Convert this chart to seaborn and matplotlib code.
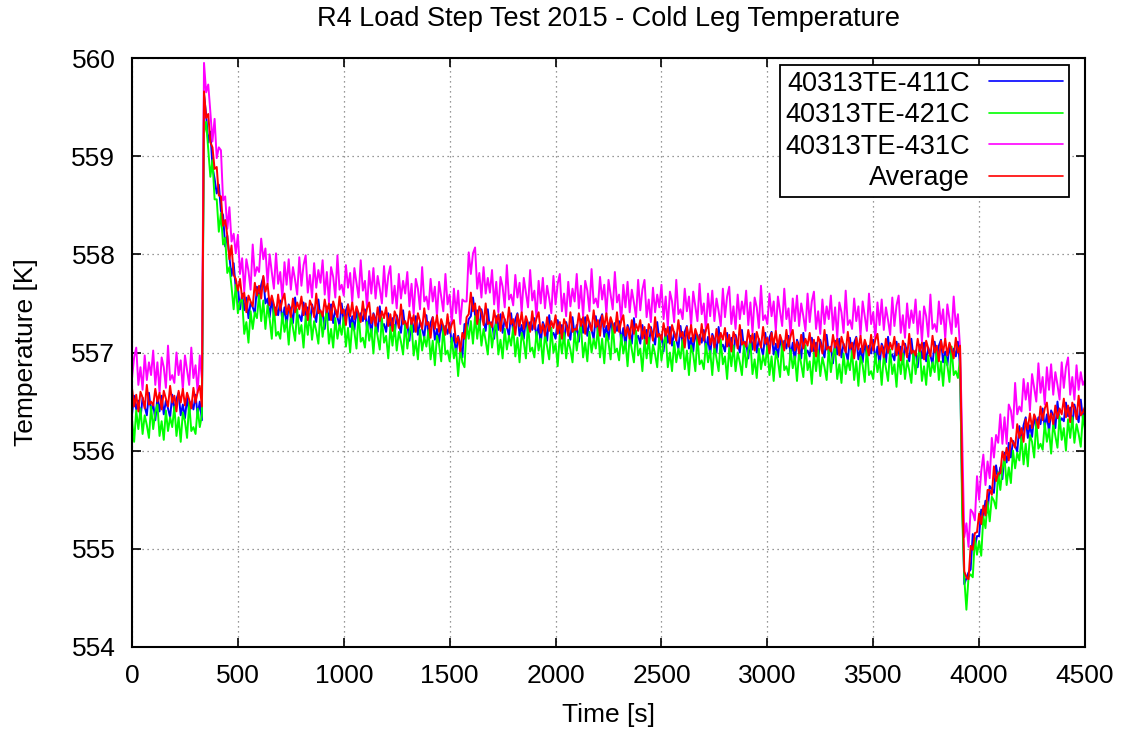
import numpy as np
import pandas as pd
import matplotlib
matplotlib.use("Agg")
import matplotlib.pyplot as plt
import seaborn as sns

# time axis: 10 s sampling, 0 .. 4500 s (451 samples)
time_s = np.arange(0, 4510, 10)

te411c = [
    556.37, 556.56, 556.42, 556.51, 556.33, 556.54, 556.45, 556.36, 556.59, 556.40,
    556.48, 556.31, 556.54, 556.40, 556.56, 556.37, 556.51, 556.43, 556.34, 556.57,
    556.40, 556.53, 556.59, 556.36, 556.47, 556.33, 556.54, 556.39, 556.50, 556.42,
    556.57, 556.36, 556.50, 556.31, 559.63, 559.42, 559.14, 559.25, 558.89, 558.77,
    558.62, 558.71, 558.44, 558.40, 558.08, 558.19, 557.97, 557.78, 557.91, 557.65,
    557.66, 557.44, 557.60, 557.43, 557.56, 557.35, 557.51, 557.46, 557.40, 557.67,
    557.53, 557.69, 557.77, 557.50, 557.55, 557.36, 557.54, 557.37, 557.46, 557.38,
    557.53, 557.32, 557.46, 557.27, 557.49, 557.43, 557.30, 557.56, 557.35, 557.38,
    557.32, 557.51, 557.37, 557.46, 557.28, 557.49, 557.40, 557.31, 557.54, 557.35,
    557.41, 557.24, 557.47, 557.33, 557.49, 557.30, 557.44, 557.36, 557.27, 557.50,
    557.30, 557.43, 557.49, 557.26, 557.37, 557.23, 557.44, 557.29, 557.40, 557.32,
    557.44, 557.23, 557.37, 557.18, 557.40, 557.34, 557.21, 557.47, 557.26, 557.29,
    557.21, 557.40, 557.26, 557.35, 557.17, 557.38, 557.29, 557.20, 557.43, 557.24,
    557.29, 557.12, 557.35, 557.21, 557.37, 557.18, 557.32, 557.24, 557.15, 557.38,
    557.17, 557.30, 557.36, 557.13, 557.24, 557.10, 557.31, 557.16, 557.27, 557.19,
    557.30, 557.07, 557.19, 556.98, 557.17, 557.08, 556.95, 557.29, 557.21, 557.34,
    557.37, 557.56, 557.38, 557.43, 557.23, 557.44, 557.33, 557.22, 557.44, 557.24,
    557.31, 557.14, 557.37, 557.23, 557.39, 557.20, 557.34, 557.26, 557.17, 557.40,
    557.21, 557.34, 557.40, 557.17, 557.28, 557.14, 557.35, 557.20, 557.31, 557.23,
    557.35, 557.14, 557.28, 557.09, 557.31, 557.25, 557.12, 557.38, 557.17, 557.20,
    557.14, 557.33, 557.19, 557.28, 557.10, 557.31, 557.22, 557.13, 557.36, 557.17,
    557.28, 557.11, 557.34, 557.20, 557.36, 557.17, 557.31, 557.23, 557.14, 557.37,
    557.20, 557.33, 557.39, 557.16, 557.27, 557.13, 557.34, 557.19, 557.30, 557.22,
    557.32, 557.11, 557.25, 557.06, 557.28, 557.22, 557.09, 557.35, 557.14, 557.17,
    557.09, 557.28, 557.14, 557.23, 557.05, 557.26, 557.17, 557.08, 557.31, 557.12,
    557.18, 557.01, 557.24, 557.10, 557.26, 557.07, 557.21, 557.13, 557.04, 557.27,
    557.08, 557.21, 557.27, 557.04, 557.15, 557.01, 557.22, 557.07, 557.18, 557.10,
    557.23, 557.02, 557.16, 556.97, 557.19, 557.13, 557.00, 557.26, 557.05, 557.08,
    557.01, 557.20, 557.06, 557.15, 556.97, 557.18, 557.09, 557.00, 557.23, 557.04,
    557.11, 556.94, 557.17, 557.03, 557.19, 557.00, 557.14, 557.06, 556.97, 557.20,
    557.02, 557.15, 557.21, 556.98, 557.09, 556.95, 557.16, 557.01, 557.12, 557.04,
    557.17, 556.96, 557.10, 556.91, 557.13, 557.07, 556.94, 557.20, 556.99, 557.02,
    556.96, 557.15, 557.01, 557.10, 556.92, 557.13, 557.04, 556.95, 557.18, 556.99,
    557.06, 556.89, 557.12, 556.98, 557.14, 556.95, 557.09, 557.01, 556.92, 557.15,
    556.97, 557.10, 557.16, 556.93, 557.04, 556.90, 557.11, 556.96, 557.07, 556.99,
    557.13, 556.92, 557.06, 556.87, 557.09, 557.03, 556.90, 557.16, 556.95, 556.98,
    556.92, 557.11, 556.97, 557.06, 556.88, 557.09, 557.00, 556.91, 557.14, 556.95,
    557.02, 556.85, 557.08, 556.94, 557.10, 556.91, 557.05, 556.97, 556.88, 557.11,
    556.94, 557.07, 557.13, 556.90, 557.01, 556.87, 557.08, 556.93, 557.04, 556.96,
    557.11, 556.86, 555.55, 554.64, 554.70, 554.76, 554.79, 555.15, 555.02, 555.13,
    555.13, 555.40, 555.33, 555.49, 555.37, 555.64, 555.61, 555.57, 555.85, 555.71,
    555.83, 555.71, 555.98, 555.88, 556.08, 555.93, 556.10, 556.05, 555.99, 556.25,
    556.11, 556.26, 556.34, 556.13, 556.26, 556.14, 556.36, 556.22, 556.34, 556.27,
    556.43, 556.23, 556.37, 556.19, 556.41, 556.36, 556.23, 556.50, 556.29, 556.33,
    556.30, 556.49, 556.35, 556.44, 556.26, 556.47, 556.38, 556.29, 556.52, 556.33,
    556.41,
]

te421c = [
    556.32, 556.09, 556.41, 556.22, 556.43, 556.17, 556.36, 556.26, 556.13, 556.45,
    556.22, 556.39, 556.47, 556.15, 556.30, 556.11, 556.41, 556.20, 556.34, 556.24,
    556.45, 556.15, 556.34, 556.09, 556.39, 556.30, 556.13, 556.49, 556.20, 556.24,
    556.17, 556.43, 556.24, 556.36, 559.23, 559.35, 559.07, 558.79, 558.96, 558.56,
    558.56, 558.23, 558.42, 558.10, 558.17, 557.81, 557.87, 557.67, 557.44, 557.69,
    557.40, 557.52, 557.54, 557.19, 557.31, 557.10, 557.42, 557.24, 557.41, 557.35,
    557.59, 557.32, 557.53, 557.24, 557.48, 557.34, 557.14, 557.48, 557.17, 557.21,
    557.14, 557.40, 557.21, 557.33, 557.08, 557.38, 557.25, 557.12, 557.44, 557.19,
    557.28, 557.05, 557.37, 557.18, 557.39, 557.13, 557.32, 557.22, 557.09, 557.41,
    557.16, 557.33, 557.41, 557.09, 557.24, 557.05, 557.35, 557.14, 557.28, 557.18,
    557.36, 557.06, 557.25, 557.00, 557.30, 557.21, 557.04, 557.40, 557.11, 557.15,
    557.05, 557.31, 557.12, 557.24, 556.99, 557.29, 557.16, 557.03, 557.35, 557.10,
    557.17, 556.94, 557.26, 557.07, 557.28, 557.02, 557.21, 557.11, 556.98, 557.30,
    557.04, 557.21, 557.29, 556.97, 557.12, 556.93, 557.23, 557.02, 557.16, 557.06,
    557.23, 556.93, 557.12, 556.87, 557.17, 557.08, 556.91, 557.27, 556.98, 557.02,
    556.91, 557.15, 556.94, 557.04, 556.76, 557.03, 556.90, 556.85, 557.29, 557.14,
    557.32, 557.09, 557.37, 557.14, 557.33, 557.07, 557.24, 557.12, 556.98, 557.29,
    557.05, 557.22, 557.30, 556.98, 557.13, 556.94, 557.24, 557.03, 557.17, 557.07,
    557.26, 556.96, 557.15, 556.90, 557.20, 557.11, 556.94, 557.30, 557.01, 557.05,
    556.95, 557.21, 557.02, 557.14, 556.89, 557.19, 557.06, 556.93, 557.25, 557.00,
    557.09, 556.86, 557.18, 556.99, 557.20, 556.94, 557.13, 557.03, 556.90, 557.22,
    557.02, 557.19, 557.27, 556.95, 557.10, 556.91, 557.21, 557.00, 557.14, 557.04,
    557.25, 556.95, 557.14, 556.89, 557.19, 557.10, 556.93, 557.29, 557.00, 557.04,
    556.92, 557.18, 556.99, 557.11, 556.86, 557.16, 557.03, 556.90, 557.22, 556.97,
    557.04, 556.81, 557.13, 556.94, 557.15, 556.89, 557.08, 556.98, 556.85, 557.17,
    556.92, 557.09, 557.17, 556.85, 557.00, 556.81, 557.11, 556.90, 557.04, 556.94,
    557.13, 556.83, 557.02, 556.77, 557.07, 556.98, 556.81, 557.17, 556.88, 556.92,
    556.83, 557.09, 556.90, 557.02, 556.77, 557.07, 556.94, 556.81, 557.13, 556.88,
    556.96, 556.73, 557.05, 556.86, 557.07, 556.81, 557.00, 556.90, 556.77, 557.09,
    556.85, 557.02, 557.10, 556.78, 556.93, 556.74, 557.04, 556.83, 556.97, 556.87,
    557.07, 556.77, 556.96, 556.71, 557.01, 556.92, 556.75, 557.11, 556.82, 556.86,
    556.77, 557.03, 556.84, 556.96, 556.71, 557.01, 556.88, 556.75, 557.07, 556.82,
    556.91, 556.68, 557.00, 556.81, 557.02, 556.76, 556.95, 556.85, 556.72, 557.04,
    556.80, 556.97, 557.05, 556.73, 556.88, 556.69, 556.99, 556.78, 556.92, 556.82,
    557.02, 556.72, 556.91, 556.66, 556.96, 556.87, 556.70, 557.06, 556.77, 556.81,
    556.73, 556.99, 556.80, 556.92, 556.67, 556.97, 556.84, 556.71, 557.03, 556.78,
    556.88, 556.65, 556.97, 556.78, 556.99, 556.73, 556.92, 556.82, 556.69, 557.01,
    556.78, 556.95, 557.03, 556.71, 556.86, 556.67, 556.97, 556.76, 556.90, 556.80,
    557.02, 556.72, 556.91, 556.66, 556.96, 556.87, 556.70, 557.06, 556.77, 556.81,
    556.74, 556.95, 555.36, 554.70, 554.38, 554.71, 554.74, 554.71, 555.11, 554.94,
    555.08, 554.93, 555.33, 555.21, 555.48, 555.28, 555.53, 555.49, 555.41, 555.78,
    555.60, 555.81, 555.93, 555.65, 555.83, 555.67, 556.00, 555.82, 555.98, 555.90,
    556.14, 555.86, 556.07, 555.84, 556.16, 556.09, 555.93, 556.30, 556.02, 556.07,
    556.01, 556.28, 556.09, 556.22, 555.97, 556.28, 556.15, 556.03, 556.35, 556.11,
    556.23, 556.00, 556.32, 556.13, 556.34, 556.08, 556.27, 556.17, 556.04, 556.36,
    556.21,
]

te431c = [
    556.74, 556.95, 557.05, 556.67, 556.85, 556.62, 556.97, 556.72, 556.90, 556.77,
    557.02, 556.67, 556.90, 556.59, 556.95, 556.85, 556.64, 557.07, 556.72, 556.77,
    556.69, 557.00, 556.77, 556.92, 556.62, 556.97, 556.82, 556.67, 557.05, 556.74,
    556.87, 556.59, 556.97, 556.74, 559.95, 559.65, 559.73, 559.45, 559.15, 559.38,
    558.98, 559.09, 559.06, 558.55, 558.59, 558.26, 558.48, 558.13, 558.21, 558.01,
    558.20, 557.80, 557.96, 557.62, 557.95, 557.83, 557.64, 558.10, 557.78, 557.87,
    557.82, 558.16, 557.95, 558.06, 557.70, 558.00, 557.82, 557.65, 558.01, 557.70,
    557.82, 557.54, 557.92, 557.69, 557.95, 557.64, 557.87, 557.74, 557.59, 557.97,
    557.68, 557.89, 557.99, 557.61, 557.79, 557.56, 557.91, 557.66, 557.84, 557.71,
    557.94, 557.59, 557.82, 557.51, 557.87, 557.77, 557.56, 557.99, 557.64, 557.69,
    557.58, 557.89, 557.66, 557.81, 557.51, 557.86, 557.71, 557.56, 557.94, 557.63,
    557.73, 557.45, 557.83, 557.60, 557.86, 557.55, 557.78, 557.65, 557.50, 557.88,
    557.57, 557.78, 557.88, 557.50, 557.68, 557.45, 557.80, 557.55, 557.73, 557.60,
    557.82, 557.47, 557.70, 557.39, 557.75, 557.65, 557.44, 557.87, 557.52, 557.57,
    557.44, 557.75, 557.52, 557.67, 557.37, 557.72, 557.57, 557.42, 557.80, 557.49,
    557.59, 557.29, 557.65, 557.40, 557.63, 557.29, 557.54, 557.52, 557.52, 558.02,
    557.80, 558.01, 558.07, 557.65, 557.81, 557.56, 557.87, 557.60, 557.76, 557.61,
    557.84, 557.49, 557.72, 557.41, 557.77, 557.67, 557.46, 557.89, 557.54, 557.59,
    557.48, 557.79, 557.56, 557.71, 557.41, 557.76, 557.61, 557.46, 557.84, 557.53,
    557.63, 557.35, 557.73, 557.50, 557.76, 557.45, 557.68, 557.55, 557.40, 557.78,
    557.49, 557.70, 557.80, 557.42, 557.60, 557.37, 557.72, 557.47, 557.65, 557.52,
    557.80, 557.45, 557.68, 557.37, 557.73, 557.63, 557.42, 557.85, 557.50, 557.55,
    557.46, 557.77, 557.54, 557.69, 557.39, 557.74, 557.59, 557.44, 557.82, 557.51,
    557.59, 557.31, 557.69, 557.46, 557.72, 557.41, 557.64, 557.51, 557.36, 557.74,
    557.43, 557.64, 557.74, 557.36, 557.54, 557.31, 557.66, 557.41, 557.59, 557.46,
    557.69, 557.34, 557.57, 557.26, 557.62, 557.52, 557.31, 557.74, 557.39, 557.44,
    557.34, 557.65, 557.42, 557.57, 557.27, 557.62, 557.47, 557.32, 557.70, 557.39,
    557.50, 557.22, 557.60, 557.37, 557.63, 557.32, 557.55, 557.42, 557.27, 557.65,
    557.36, 557.57, 557.67, 557.29, 557.47, 557.24, 557.59, 557.34, 557.52, 557.39,
    557.63, 557.28, 557.51, 557.20, 557.56, 557.46, 557.25, 557.68, 557.33, 557.38,
    557.29, 557.60, 557.37, 557.52, 557.22, 557.57, 557.42, 557.27, 557.65, 557.34,
    557.45, 557.17, 557.55, 557.32, 557.58, 557.27, 557.50, 557.37, 557.22, 557.60,
    557.31, 557.52, 557.62, 557.24, 557.42, 557.19, 557.54, 557.29, 557.47, 557.34,
    557.58, 557.23, 557.46, 557.15, 557.51, 557.41, 557.20, 557.63, 557.28, 557.33,
    557.24, 557.55, 557.32, 557.47, 557.17, 557.52, 557.37, 557.22, 557.60, 557.29,
    557.41, 557.13, 557.51, 557.28, 557.54, 557.23, 557.46, 557.33, 557.18, 557.56,
    557.27, 557.48, 557.58, 557.20, 557.38, 557.15, 557.50, 557.25, 557.43, 557.30,
    557.54, 557.19, 557.42, 557.11, 557.47, 557.37, 557.16, 557.59, 557.24, 557.29,
    557.21, 557.52, 557.29, 557.44, 557.14, 557.49, 557.34, 557.19, 557.57, 557.26,
    557.39, 557.05, 556.15, 555.12, 555.26, 555.02, 555.40, 555.37, 555.29, 555.74,
    555.50, 555.79, 555.96, 555.65, 555.89, 555.72, 556.13, 555.93, 556.16, 556.08,
    556.37, 556.07, 556.34, 556.07, 556.47, 556.41, 556.23, 556.69, 556.37, 556.45,
    556.40, 556.73, 556.52, 556.69, 556.41, 556.78, 556.64, 556.50, 556.89, 556.59,
    556.75, 556.47, 556.85, 556.62, 556.88, 556.57, 556.80, 556.67, 556.52, 556.90,
    556.64, 556.85, 556.95, 556.57, 556.75, 556.52, 556.87, 556.62, 556.80, 556.67,
    556.72,
]

average = [
    556.64, 556.45, 556.57, 556.40, 556.60, 556.54, 556.43, 556.67, 556.47, 556.50,
    556.46, 556.63, 556.50, 556.59, 556.42, 556.61, 556.53, 556.45, 556.66, 556.49,
    556.56, 556.40, 556.61, 556.49, 556.63, 556.46, 556.59, 556.52, 556.43, 556.64,
    556.49, 556.60, 556.66, 556.45, 559.66, 559.39, 559.43, 559.14, 559.09, 558.87,
    558.89, 558.60, 558.59, 558.29, 558.35, 558.19, 557.95, 558.09, 557.79, 557.75,
    557.63, 557.75, 557.55, 557.61, 557.41, 557.58, 557.52, 557.47, 557.71, 557.58,
    557.68, 557.55, 557.78, 557.62, 557.70, 557.48, 557.58, 557.49, 557.38, 557.59,
    557.43, 557.54, 557.60, 557.39, 557.48, 557.36, 557.55, 557.41, 557.51, 557.44,
    557.57, 557.38, 557.50, 557.33, 557.53, 557.47, 557.36, 557.60, 557.40, 557.43,
    557.37, 557.54, 557.41, 557.50, 557.33, 557.52, 557.44, 557.36, 557.57, 557.40,
    557.44, 557.28, 557.49, 557.37, 557.51, 557.34, 557.47, 557.40, 557.31, 557.52,
    557.34, 557.45, 557.51, 557.30, 557.39, 557.27, 557.46, 557.32, 557.42, 557.35,
    557.46, 557.27, 557.39, 557.22, 557.42, 557.36, 557.25, 557.49, 557.29, 557.32,
    557.25, 557.42, 557.29, 557.38, 557.21, 557.40, 557.32, 557.24, 557.45, 557.28,
    557.31, 557.15, 557.36, 557.24, 557.38, 557.21, 557.34, 557.27, 557.18, 557.39,
    557.20, 557.29, 557.33, 557.10, 557.16, 557.01, 557.20, 557.14, 557.36, 557.39,
    557.61, 557.42, 557.50, 557.29, 557.47, 557.41, 557.28, 557.50, 557.29, 557.31,
    557.26, 557.43, 557.30, 557.39, 557.22, 557.41, 557.33, 557.25, 557.46, 557.29,
    557.34, 557.18, 557.39, 557.27, 557.41, 557.24, 557.37, 557.30, 557.21, 557.42,
    557.24, 557.35, 557.41, 557.20, 557.29, 557.17, 557.36, 557.22, 557.32, 557.25,
    557.38, 557.19, 557.31, 557.14, 557.34, 557.28, 557.17, 557.41, 557.21, 557.24,
    557.23, 557.40, 557.27, 557.36, 557.19, 557.38, 557.30, 557.22, 557.43, 557.26,
    557.33, 557.17, 557.38, 557.26, 557.40, 557.23, 557.36, 557.29, 557.20, 557.41,
    557.21, 557.32, 557.38, 557.17, 557.26, 557.14, 557.33, 557.19, 557.29, 557.22,
    557.33, 557.14, 557.26, 557.09, 557.29, 557.23, 557.12, 557.36, 557.16, 557.19,
    557.13, 557.30, 557.17, 557.26, 557.09, 557.28, 557.20, 557.12, 557.33, 557.16,
    557.21, 557.05, 557.26, 557.14, 557.28, 557.11, 557.24, 557.17, 557.08, 557.29,
    557.12, 557.23, 557.29, 557.08, 557.17, 557.05, 557.24, 557.10, 557.20, 557.13,
    557.25, 557.06, 557.18, 557.01, 557.21, 557.15, 557.04, 557.28, 557.08, 557.11,
    557.06, 557.23, 557.10, 557.19, 557.02, 557.21, 557.13, 557.05, 557.26, 557.09,
    557.15, 556.99, 557.20, 557.08, 557.22, 557.05, 557.18, 557.11, 557.02, 557.23,
    557.06, 557.17, 557.23, 557.02, 557.11, 556.99, 557.18, 557.04, 557.14, 557.07,
    557.20, 557.01, 557.13, 556.96, 557.16, 557.10, 556.99, 557.23, 557.03, 557.06,
    557.01, 557.18, 557.05, 557.14, 556.97, 557.16, 557.08, 557.00, 557.21, 557.04,
    557.10, 556.94, 557.15, 557.03, 557.17, 557.00, 557.13, 557.06, 556.97, 557.18,
    557.02, 557.13, 557.19, 556.98, 557.07, 556.95, 557.14, 557.00, 557.10, 557.03,
    557.16, 556.97, 557.09, 556.92, 557.12, 557.06, 556.95, 557.19, 556.99, 557.02,
    556.97, 557.14, 557.01, 557.10, 556.93, 557.12, 557.04, 556.96, 557.17, 557.00,
    557.07, 556.91, 557.12, 557.00, 557.14, 556.97, 557.10, 557.03, 556.94, 557.15,
    557.00, 557.07, 555.73, 554.77, 554.71, 554.69, 555.03, 554.99, 555.16, 555.17,
    555.36, 555.25, 555.44, 555.34, 555.60, 555.60, 555.55, 555.84, 555.69, 555.77,
    555.77, 555.99, 555.90, 556.03, 555.90, 556.13, 556.08, 556.03, 556.27, 556.13,
    556.23, 556.09, 556.32, 556.22, 556.38, 556.23, 556.37, 556.31, 556.23, 556.45,
    556.31, 556.43, 556.49, 556.29, 556.38, 556.27, 556.46, 556.33, 556.43, 556.37,
    556.53, 556.34, 556.46, 556.29, 556.49, 556.43, 556.32, 556.56, 556.36, 556.39,
    556.45,
]

series_labels = ["40313TE-411C", "40313TE-421C", "40313TE-431C", "Average"]
series_colors = ["#0000ff", "#00ff00", "#ff00ff", "#ff0000"]
x_ticks = [0, 500, 1000, 1500, 2000, 2500, 3000, 3500, 4000, 4500]
y_ticks = [554, 555, 556, 557, 558, 559, 560]

frames = []
for lab, vals in zip(series_labels, [te411c, te421c, te431c, average]):
    frames.append(pd.DataFrame({"time": time_s, "temp": vals, "series": lab}))
df = pd.concat(frames, ignore_index=True)

sns.set_style("ticks")
plt.rcParams["font.family"] = ["Liberation Sans", "DejaVu Sans"]
plt.rcParams["text.color"] = "black"
plt.rcParams["axes.labelcolor"] = "black"
plt.rcParams["xtick.color"] = "black"
plt.rcParams["ytick.color"] = "black"

fig = plt.figure(figsize=(11.25, 7.33), dpi=100)
ax = fig.add_axes([132 / 1125, 1 - 647 / 733, 953 / 1125, 589 / 733])

sns.lineplot(data=df, x="time", y="temp", hue="series", hue_order=series_labels,
             palette=series_colors, estimator=None, sort=False, linewidth=1.4,
             ax=ax)

ax.set_xlim(0, 4500)
ax.set_ylim(554, 560)
ax.set_xticks(x_ticks)
ax.set_yticks(y_ticks)
ax.grid(True, linestyle=(0, (1, 3)), color="#777777", linewidth=0.9)
ax.tick_params(direction="in", length=6.5, width=1.2, top=True, right=True,
               labelsize=19, pad=12, colors="black")
for s in ax.spines.values():
    s.set_linewidth(1.5)
    s.set_color("black")

ax.set_title("R4 Load Step Test 2015 - Cold Leg Temperature", fontsize=19.5, pad=23,
             color="black")
ax.set_xlabel("Time [s]", fontsize=19, labelpad=11)
ax.set_ylabel("Temperature [K]", fontsize=19, labelpad=24)

handles, labels = ax.get_legend_handles_labels()
leg = ax.legend(handles, labels, loc="upper right",
                bbox_to_anchor=(1 - 16 / 953, 1 - 7 / 589), borderaxespad=0,
                markerfirst=False, fontsize=19.5, handlelength=2.75, handletextpad=0.68,
                labelspacing=0.2, fancybox=False, framealpha=1, edgecolor="black",
                borderpad=0.22)
leg.get_frame().set_linewidth(1.3)
for line in leg.get_lines():
    line.set_linewidth(1.2)
for t in leg.get_texts():
    t.set_color("black")

fig.savefig("out.png", dpi=100)
